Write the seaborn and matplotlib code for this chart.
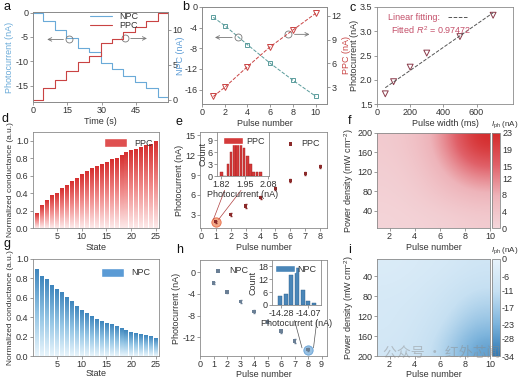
import numpy as np
import pandas as pd
import seaborn as sns
import matplotlib.pyplot as plt
from matplotlib.colors import LinearSegmentedColormap
from matplotlib.lines import Line2D
from matplotlib.patches import Patch

# ---------------- data ----------------
# (a) photocurrent steps vs time
a_time = [0, 4.5, 9.5, 14.5, 19.5, 24.5, 29.5, 34.5, 39.5, 44.5, 49.5, 54.5, 59]
a_npc = [0, -1.7, -3.6, -5.2, -7.3, -8.1, -10.3, -11.7, -13.0, -14.2, -15.6, -17.3, -17.3]
a_ppc = [0, 1.6, 2.8, 4.1, 5.4, 6.2, 8.1, 8.7, 9.6, 10.4, 11.2, 12.4, 12.4]

# (b) NPC / PPC vs pulse number
b_pulse = [1, 2, 4, 6, 8, 10]
b_npc = [-2.0, -3.6, -7.3, -10.9, -14.2, -17.3]
b_ppc = [1.85, 3.0, 5.6, 8.1, 10.2, 12.3]

# (c) PPC vs pulse width
c_width = [50, 100, 200, 300, 500, 700]
c_current = [1.71, 1.96, 2.26, 2.55, 2.89, 3.33]

# (d) / (g) normalized conductance per state
states = list(range(1, 26))
d_ppc = [0.17, 0.26, 0.32, 0.37, 0.40, 0.45, 0.49, 0.53, 0.57, 0.61, 0.65, 0.68, 0.71,
         0.73, 0.75, 0.78, 0.80, 0.83, 0.86, 0.89, 0.90, 0.92, 0.94, 0.96, 0.99]
g_npc = [0.89, 0.82, 0.79, 0.73, 0.69, 0.65, 0.60, 0.56, 0.51, 0.47, 0.44, 0.41, 0.38,
         0.36, 0.34, 0.32, 0.30, 0.28, 0.26, 0.24, 0.23, 0.22, 0.21, 0.20, 0.18]

# (e) PPC vs pulse number + histogram inset
e_pulse = [1, 2, 3, 4, 5, 6, 7, 8]
e_current = [1.95, 3.0, 4.35, 5.65, 7.0, 8.15, 9.25, 10.25]
e_err = [0.15, 0.2, 0.3, 0.25, 0.25, 0.2, 0.2, 0.25]
e_hist_x = [1.820, 1.838, 1.856, 1.874, 1.892, 1.910, 1.928, 1.946, 1.964, 1.982, 2.000, 2.018, 2.036]
e_hist_n = [1, 0, 3, 6, 8, 9, 8, 7, 5, 3, 1, 1, 1]

# (h) NPC vs pulse number + histogram inset
h_pulse = [1, 2, 3, 4, 5, 6, 7, 8]
h_current = [-2.0, -3.65, -5.4, -7.2, -9.2, -10.9, -12.7, -14.3]
h_err = [0.2, 0.2, 0.25, 0.25, 0.2, 0.25, 0.3, 0.2]
h_hist_x = [-14.290, -14.246, -14.202, -14.158, -14.114, -14.070, -14.026]
h_hist_n = [4, 5, 14, 17, 7, 2, 1]

# (f) / (i) Iph maps: rows = power density, cols = pulse number
map_pulse = [1, 4, 7, 10]
map_power = [0, 50, 100, 150, 200]
f_iph = [[0.5, 1.0, 1.5, 2.5],
         [1.0, 2.0, 4.0, 6.0],
         [1.5, 3.0, 7.0, 11.0],
         [2.0, 4.0, 10.0, 17.0],
         [2.5, 5.0, 12.0, 23.0]]
i_iph = [[-4, -5, -6, -8],
         [-5, -6, -8, -11],
         [-6, -7, -10, -15],
         [-6, -8, -12, -20],
         [-7, -9, -15, -27]]

# ---------------- style ----------------
sns.set_theme(style="ticks")
plt.rcParams['font.family'] = ['Liberation Sans', 'Noto Sans CJK SC', 'DejaVu Sans']
plt.rcParams.update({
    'font.size': 6.5, 'axes.labelsize': 6.5, 'xtick.labelsize': 6.5, 'ytick.labelsize': 6.5,
    'legend.fontsize': 6.5, 'axes.edgecolor': '#8a8a8a', 'axes.linewidth': 0.6,
    'xtick.color': '#8a8a8a', 'ytick.color': '#8a8a8a',
    'xtick.labelcolor': '#333333', 'ytick.labelcolor': '#333333',
    'xtick.major.size': 2, 'ytick.major.size': 2, 'xtick.major.width': 0.6, 'ytick.major.width': 0.6,
    'xtick.major.pad': 1.2, 'ytick.major.pad': 1.2, 'axes.labelpad': 1.2,
    'axes.labelcolor': '#333333', 'text.color': '#333333', 'axes.unicode_minus': False,
    'mathtext.fontset': 'custom', 'mathtext.rm': 'Liberation Sans',
    'mathtext.it': 'Liberation Sans:italic',
})

BLUE = '#6aaad8'
RED = '#c94343'
TEAL = '#5a9c9c'
GREY = '#777777'

fig = plt.figure(figsize=(5.2, 3.8), dpi=100)


def box(l, t, r, b):
    return fig.add_axes([l / 520, 1 - b / 380, (r - l) / 520, (b - t) / 380])


def grad_bars(ax, cmap):
    grad = np.linspace(0, 1, 64).reshape(-1, 1)
    for p in list(ax.patches):
        x0, w, h = p.get_x(), p.get_width(), p.get_height()
        ax.imshow(grad, extent=[x0, x0 + w, 0, h], origin='lower', cmap=cmap,
                  aspect='auto', zorder=2)
        p.set_facecolor('none')
        p.set_edgecolor('none')


def cbar(im, cax, ticks):
    cb = fig.colorbar(im, cax=cax, ticks=ticks)
    cb.outline.set_edgecolor('#8a8a8a')
    cb.outline.set_linewidth(0.6)
    cax.tick_params(length=0, pad=1.5)
    cax.text(1.55, 1.03, r'$I_{\rm ph}$ (nA)', transform=cax.transAxes, ha='center',
             va='bottom', fontsize=5.8)


# ---- a ----
ax = box(33, 12, 168, 102)
sns.lineplot(x=a_time, y=a_npc, ax=ax, color=BLUE, lw=0.8, drawstyle='steps-post', legend=False)
ax2 = ax.twinx()
sns.lineplot(x=a_time, y=a_ppc, ax=ax2, color=RED, lw=0.8, drawstyle='steps-post', legend=False)
ax.set_xlim(0, 59)
ax.set_ylim(-18.4, 0.15)
ax2.set_ylim(-0.35, 12.5)
ax.set_xticks([0, 15, 30, 45])
ax.set_yticks([0, -5, -10, -15])
ax2.set_yticks([0, 5, 10])
ax2.tick_params(axis='y', pad=1)
ax.set_xlabel('Time (s)')
ax.set_ylabel('Photocurrent (nA)', color=BLUE)
ax2.legend(handles=[Line2D([], [], color=BLUE, lw=0.8), Line2D([], [], color=RED, lw=0.8)],
           labels=['NPC', 'PPC'], loc='upper center', bbox_to_anchor=(0.6, 1.09),
           frameon=False, handlelength=2.5, labelspacing=0.05)
ax.annotate('', xy=(5, -5.5), xytext=(14.5, -5.5),
            arrowprops=dict(arrowstyle='->', color=GREY, lw=0.6))
ax.plot(15.6, -5.5, marker='o', ms=5, mfc='none', mec=GREY, mew=0.6)
ax.annotate('', xy=(51, -5.3), xytext=(41.5, -5.3),
            arrowprops=dict(arrowstyle='->', color=GREY, lw=0.6))
ax.plot(40.4, -5.3, marker='o', ms=5, mfc='none', mec=GREY, mew=0.6)

# ---- b ----
ax = box(202, 7, 327, 104)
sns.lineplot(x=b_pulse, y=b_npc, ax=ax, color=TEAL, lw=0.7, ls='--', marker='s',
             markersize=3.5, markerfacecolor='none', markeredgecolor=TEAL, markeredgewidth=0.7)
ax2 = ax.twinx()
sns.lineplot(x=b_pulse, y=b_ppc, ax=ax2, color=RED, lw=0.7, ls='--', marker='v',
             markersize=4, markerfacecolor='none', markeredgecolor=RED, markeredgewidth=0.7)
ax.set_xlim(0, 11)
ax.set_ylim(-18.8, 0)
ax2.set_ylim(0.9, 13.1)
ax.set_xticks([0, 2, 4, 6, 8, 10])
ax.set_yticks([0, -4, -8, -12, -16])
ax2.set_yticks([3, 6, 9, 12])
ax.set_xlabel('Pulse number')
ax.set_ylabel('NPC (nA)', color='#5b9bd5', labelpad=-0.5)
ax2.set_ylabel('PPC (nA)', color=RED, labelpad=0.5)
ax.annotate('', xy=(0.9, -5.9), xytext=(2.9, -5.9),
            arrowprops=dict(arrowstyle='->', color=GREY, lw=0.6))
ax.plot(3.2, -5.9, marker='o', ms=5, mfc='none', mec=GREY, mew=0.6)
ax.annotate('', xy=(9.7, -5.3), xytext=(7.9, -5.3),
            arrowprops=dict(arrowstyle='->', color=GREY, lw=0.6))
ax.plot(7.6, -5.3, marker='o', ms=5, mfc='none', mec=GREY, mew=0.6)

# ---- c ----
ax = box(377, 7, 513, 104)
sns.regplot(x=c_width, y=c_current, ax=ax, ci=None, scatter=False,
            line_kws=dict(ls='--', color='#555555', lw=0.7))
sns.scatterplot(x=c_width, y=c_current, ax=ax, marker='v', s=18,
                facecolor='none', edgecolor='#8a3a4a', linewidth=0.7)
ax.set_xlim(0, 820)
ax.set_ylim(1.5, 3.5)
ax.set_xticks([0, 200, 400, 600])
ax.set_yticks([1.5, 2.0, 2.5, 3.0, 3.5])
ax.set_xlabel('Pulse width (ms)')
ax.set_ylabel('Photocurrent (nA)', labelpad=0.8)
ax.legend(handles=[Line2D([], [], ls='--', color='#555555', lw=0.7)], labels=['Linear fitting:'],
          markerfirst=False, loc='upper left', bbox_to_anchor=(0.03, 1.01), frameon=False,
          handlelength=2.2, labelcolor='#c4506a', borderpad=0.3)
ax.text(0.1, 0.765, 'Fitted $R^2$ = 0.97472', transform=ax.transAxes, color='#c4506a',
        fontsize=6.5, va='center')

# ---- d ----
red_cmap = LinearSegmentedColormap.from_list('r', ['#fde9e9', '#f08a8a', '#d63030'])
ax = box(33, 132, 159, 228)
sns.barplot(x=states, y=d_ppc, ax=ax, native_scale=True, width=0.72, color='#e05050')
grad_bars(ax, red_cmap)
ax.set_xlim(0.2, 25.6)
ax.set_ylim(0, 1.1)
ax.set_xticks([5, 10, 15, 20, 25])
ax.set_yticks([0, 0.2, 0.4, 0.6, 0.8, 1.0])
ax.set_xlabel('State')
ax.set_ylabel('Normalized conductance (a.u.)', fontsize=6.0)
ax.legend(handles=[Patch(facecolor='#df5050')], labels=['PPC'], loc='upper right',
          frameon=False, handlelength=2.5, handleheight=1.1, borderaxespad=0.3)

# ---- g ----
blue_cmap = LinearSegmentedColormap.from_list('b', ['#e8f5fc', '#92c4e4', '#3f86bd'])
ax = box(33, 259, 159, 356)
sns.barplot(x=states, y=g_npc, ax=ax, native_scale=True, width=0.72, color='#5b9bd5')
grad_bars(ax, blue_cmap)
ax.set_xlim(0.2, 25.6)
ax.set_ylim(0, 1.0)
ax.set_xticks([5, 10, 15, 20, 25])
ax.set_yticks([0, 0.2, 0.4, 0.6, 0.8, 1.0])
ax.set_xlabel('State', labelpad=0)
ax.set_ylabel('Normalized conductance (a.u.)', fontsize=6.0)
ax.legend(handles=[Patch(facecolor='#5b9bd5')], labels=['NPC'], loc='upper right',
          frameon=False, handlelength=2.5, handleheight=1.1, borderaxespad=0.6)

# ---- e ----
ax = box(200, 132, 327, 228)
ax.scatter([e_pulse[0]], [e_current[0]], s=45, color='#f3a07a', edgecolor='#e5603a',
           linewidth=0.6, alpha=0.9, zorder=1)
ax.errorbar(e_pulse, e_current, yerr=e_err, ls='none', color='#8b2a2a', lw=0.5, capsize=0.8)
sns.scatterplot(x=e_pulse, y=e_current, ax=ax, marker='s', s=6, color='#8b2a2a',
                edgecolor='none', label='PPC', zorder=3)
ax.plot([0.85, 1.6], [2.3, 6.7], color='#b04040', lw=0.5)
ax.plot([1.2, 2.7], [2.3, 6.7], color='#b04040', lw=0.5)
ax.set_xlim(-0.05, 8.45)
ax.set_ylim(1.0, 15.5)
ax.set_xticks(range(0, 9))
ax.set_yticks([3, 6, 9, 12, 15])
ax.set_xlabel('Pulse number')
ax.set_ylabel('Photocurrent (nA)')
ax.legend(loc='upper right', frameon=False, handletextpad=0.2, borderaxespad=0.4)

ins = box(217, 132, 269, 176)
sns.barplot(x=e_hist_x, y=e_hist_n, ax=ins, native_scale=True, width=0.8, color='#d43a3a',
            edgecolor='#a02020', linewidth=0.3, saturation=1)
ins.set_xlim(1.795, 2.085)
ins.set_ylim(0, 11)
ins.set_xticks([1.82, 1.95, 2.08])
ins.set_yticks([0, 3, 6, 9])
ins.set_xlabel('Photocurrent (nA)', labelpad=0.5)
ins.set_ylabel('Count', labelpad=0.5)
ins.tick_params(pad=1)
ins.legend(handles=[Patch(facecolor='#d43a3a')], labels=['PPC'], loc='upper right',
           frameon=False, handlelength=2.2, handletextpad=0.3, borderaxespad=0.1)

# ---- h ----
ax = box(200, 260, 327, 356)
ax.scatter([h_pulse[-1]], [h_current[-1]], s=45, color='#8dbbe0', edgecolor='#5b9bd5',
           linewidth=0.6, alpha=0.9, zorder=1)
ax.errorbar(h_pulse, h_current, yerr=h_err, ls='none', color='#6a7f95', lw=0.5, capsize=0.8)
sns.scatterplot(x=h_pulse, y=h_current, ax=ax, marker='s', s=6, color='#6a7f95',
                edgecolor='none', label='NPC', zorder=3)
ax.plot([7.55, 7.0], [-14.0, -8.9], color='#555555', lw=0.5)
ax.plot([8.4, 8.65], [-14.0, -8.9], color='#555555', lw=0.5)
ax.set_xlim(0, 9.4)
ax.set_ylim(-15.5, 2.3)
ax.set_xticks(range(0, 10))
ax.set_yticks([0, -4, -8, -12])
ax.set_xlabel('Pulse number', labelpad=0.5)
ax.set_ylabel('Photocurrent (nA)')
ax.legend(loc='upper left', frameon=False, handletextpad=0.3, borderaxespad=0.3,
          bbox_to_anchor=(0.02, 1.0))

ins = box(272, 260, 321, 305)
sns.barplot(x=h_hist_x, y=h_hist_n, ax=ins, native_scale=True, width=0.72, color='#4a86b8',
            edgecolor='#2d5f88', linewidth=0.3, saturation=1)
ins.set_xlim(-14.354, -13.97)
ins.set_ylim(0, 20.8)
ins.set_xticks([-14.28, -14.07])
ins.set_yticks([0, 6, 12, 18])
ins.set_xlabel('Photocurrent (nA)', labelpad=0.5)
ins.set_ylabel('Count', labelpad=0.5)
ins.tick_params(pad=1)
ins.legend(handles=[Patch(facecolor='#4a86b8')], labels=['NPC'], loc='upper right',
           frameon=False, handlelength=2.2, handletextpad=0.3, borderaxespad=0.1)

# ---- f ----
f_cmap = LinearSegmentedColormap.from_list('f', ['#f4d6da', '#eeb4ba', '#e06068', '#d42a2a'])
ax = box(377, 133, 490, 228)
im = ax.imshow(np.array(f_iph), extent=[1, 10, 4, 200], origin='lower', aspect='auto',
               cmap=f_cmap, vmin=0, vmax=23, interpolation='bicubic')
ax.set_xlim(1, 10)
ax.set_ylim(4, 200)
ax.set_xticks([2, 4, 6, 8, 10])
ax.set_yticks([40, 80, 120, 160, 200])
ax.set_xlabel('Pulse number')
ax.set_ylabel('Power density (mW cm$^{-2}$)')
cbar(im, box(492, 133, 500, 228), [0, 4, 8, 12, 15, 19, 23])

# ---- i ----
i_cmap = LinearSegmentedColormap.from_list('i', ['#2f78b4', '#7db4dc', '#c6e0f2', '#e6f2fb'])
ax = box(377, 259, 490, 356)
im = ax.imshow(np.array(i_iph), extent=[1, 10, 0, 200], origin='lower', aspect='auto',
               cmap=i_cmap, vmin=-34, vmax=0, interpolation='bicubic')
ax.set_xlim(1, 10)
ax.set_ylim(200, 5)
ax.set_xticks([2, 4, 6, 8, 10])
ax.set_yticks([40, 80, 120, 160, 200])
ax.set_xlabel('Pulse number', labelpad=0.5)
ax.set_ylabel('Power density (mW cm$^{-2}$)')
cbar(im, box(492, 259, 500, 356), [0, -6, -11, -17, -23, -28, -34])

# panel letters
for letter, (px, py) in zip('abcdefghi', [(4, 7), (182, 7), (349, 8), (2, 119), (176, 122),
                                           (348, 121), (3, 244), (176, 250), (348, 250)]):
    fig.text(px / 520, 1 - py / 380, letter, fontsize=9, va='center', ha='left', color='#111111')

# watermark
fig.text(442 / 520, 1 - 353 / 380, '公众号 · 红外芯闻', fontsize=10, color='#888888',
         alpha=0.45, ha='center', va='center', family=['Noto Sans CJK SC', 'DejaVu Sans'])

fig.savefig('out.png', dpi=100)
